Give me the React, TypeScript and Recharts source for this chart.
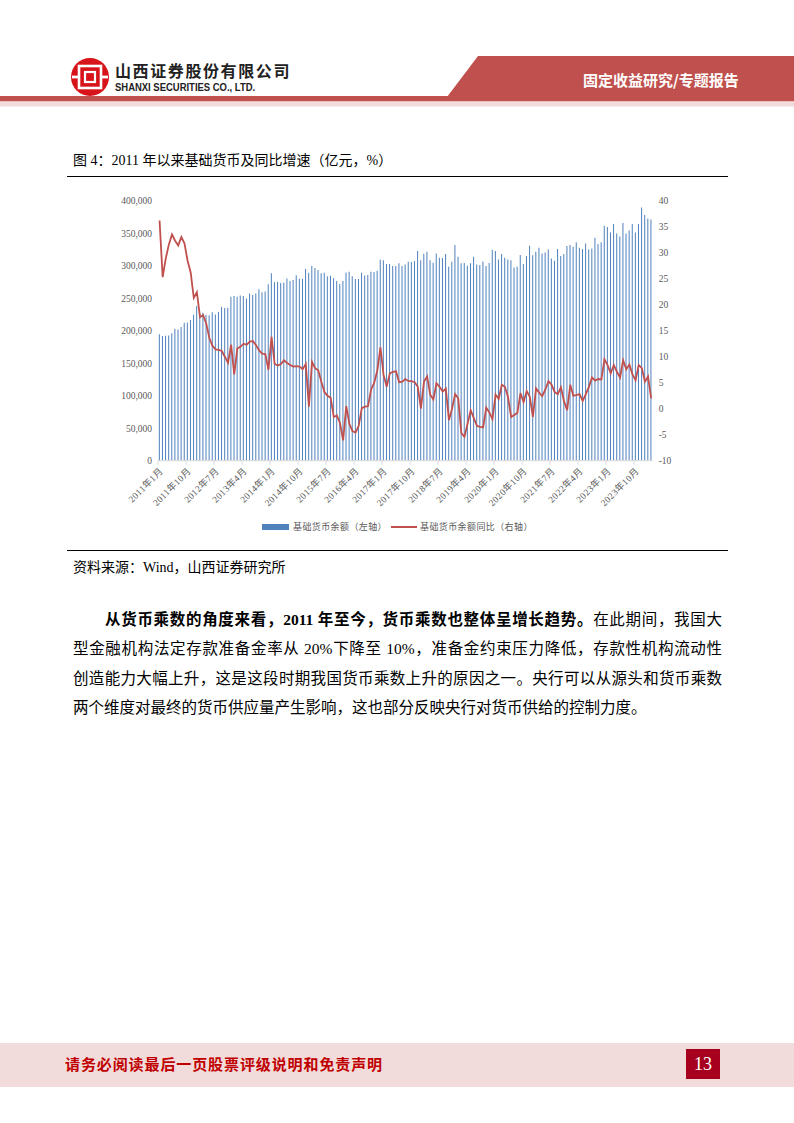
import React from 'react';
import { ComposedChart, Bar, Line, XAxis, YAxis } from 'recharts';

// 基础货币余额（亿元），2011年1月 — 2024年3月，月度
const START_YEAR = 2011;
const baseMoney = [
  194400, 191800, 192300, 192800, 195900, 203100, 202000, 205600, 212300, 212800, 216400, 224600,
  237900, 226700, 227700, 224600, 223600, 228200, 225100, 228700, 236400, 234900, 235400, 252300,
  253300, 252300, 254300, 253300, 249700, 257400, 254800, 257400, 263600, 259000, 260500, 271300,
  288200, 274500, 274800, 273300, 274300, 280500, 276600, 277900, 285400, 279800, 280000, 294800,
  289200, 299500, 296400, 293300, 288200, 289000, 283900, 284400, 280800, 276400, 271800, 276400,
  289700, 290700, 283600, 279500, 279500, 289200, 285100, 285600, 290700, 290200, 292300, 309200,
  308200, 302500, 302500, 299500, 299500, 303600, 299500, 302000, 306100, 305600, 307100, 322500,
  308200, 318400, 321500, 308200, 304600, 318900, 312300, 311800, 317900, 298400, 306100, 331800,
  313800, 303600, 304100, 300000, 303600, 313800, 302000, 301000, 306600, 299500, 304100, 324600,
  322500, 309700, 317900, 312300, 309700, 308200, 297400, 298400, 316400, 302500, 314800, 330700,
  315900, 321500, 327600, 318900, 320500, 325100, 311200, 307600, 325600, 314800, 317900, 330200,
  331800, 329200, 335900, 327600, 325600, 334300, 325100, 326600, 343000, 333300, 335900, 361500,
  359400, 351200, 364000, 349700, 345100, 365600, 349700, 354300, 364000, 351200, 364000, 389700,
  377900, 372800, 371200,
];

// 基础货币余额同比（%）
const yoyGrowth = [
  36.2, 25.3, 28.9, 31.6, 33.5, 32.3, 31.4, 33.0, 31.8, 28.5, 26.2, 21.3,
  22.4, 17.6, 18.0, 16.4, 13.6, 12.1, 11.4, 11.3, 11.1, 10.0, 8.8, 12.3,
  6.6, 11.6, 11.9, 12.5, 12.3, 12.9, 13.0, 12.2, 11.2, 10.6, 10.5, 7.5,
  13.8, 8.6, 8.3, 8.6, 9.3, 8.8, 8.4, 8.1, 8.2, 8.1, 7.6, 8.6,
  0.4, 9.0, 7.8, 7.4, 5.2, 3.2, 2.5, 2.1, -1.6, -1.3, -2.8, -6.1,
  0.5, -2.9, -4.3, -4.6, -3.3, 0.1, 0.4, 0.5, 3.7, 5.0, 7.4, 11.8,
  6.5, 4.2, 6.8, 7.1, 7.2, 5.1, 5.2, 5.7, 5.3, 5.3, 5.1, 4.2,
  0.0, 5.2, 6.2, 2.7, 1.8, 4.9, 4.2, 3.3, 3.9, -2.2, 0.0, 2.8,
  2.0, -4.7, -5.4, -2.9, -0.3, -1.8, -3.3, -3.5, -3.6, 0.2, -0.7, -2.0,
  2.7, 1.9, 4.6, 4.2, 2.2, -1.6, -1.2, -0.8, 3.0, 1.3, 3.4, 2.3,
  -1.6, 3.9, 3.1, 2.4, 3.7, 5.3, 4.6, 3.2, 2.8, 4.1, 1.4, -0.3,
  4.6, 2.5, 2.6, 2.8, 1.5, 2.8, 4.2, 6.0, 5.4, 5.7, 5.6, 9.5,
  8.4, 6.8, 8.4, 7.1, 6.0, 9.3, 7.6, 8.5, 6.6, 5.5, 8.4, 7.8,
  5.2, 6.2, 2.0,
];

const leftTicks = [0, 50000, 100000, 150000, 200000, 250000, 300000, 350000, 400000];
const rightTicks = [-10, -5, 0, 5, 10, 15, 20, 25, 30, 35, 40];

const months = baseMoney.map(
  (_, i) => `${START_YEAR + Math.floor(i / 12)}年${(i % 12) + 1}月`
);
const chartData = months.map((m, i) => ({ month: m, base: baseMoney[i], yoy: yoyGrowth[i] }));

const SERIF = '"Liberation Serif", "Times New Roman", "Noto Sans CJK SC", serif';
const AXIS_GREY = '#595959';

const MonthTick = ({ x, y, payload }: any) => {
  const half = payload && payload.offset ? payload.offset : 1.55;
  const ax = x + 4;
  const ay = y + 11;
  return (
    <g>
      <line x1={x - half} y1={y} x2={x - half} y2={y + 4} stroke="#d9d9d9" strokeWidth={1} />
      <text
        x={ax}
        y={ay}
        transform={`rotate(-45 ${ax} ${ay})`}
        textAnchor="end"
        fontSize={9.3}
        letterSpacing={0.4}
        fill={AXIS_GREY}
        fontFamily={SERIF}
      >
        {payload.value}
      </text>
    </g>
  );
};

const Logo = () => (
  <svg width={40} height={40} viewBox="0 0 40 40" style={{ position: 'absolute', left: 70, top: 57 }}>
    <circle cx={20} cy={20} r={19} fill="#d7141a" />
    <rect x={9} y={9} width={22} height={22} fill="none" stroke="#fff" strokeWidth={2.6} />
    <rect x={15} y={15} width={10} height={10} fill="none" stroke="#fff" strokeWidth={2.2} />
    <rect x={2} y={18.6} width={7} height={2.8} fill="#fff" />
    <rect x={31} y={18.6} width={7} height={2.8} fill="#fff" />
  </svg>
);

const BaseMoneyChart = () => (
  <div style={{ position: 'absolute', left: 60, top: 190, width: 680, height: 350 }}>
    <ComposedChart
      width={680}
      height={350}
      data={chartData}
      margin={{ top: 10.7, right: 57.3, left: 0, bottom: 0 }}
      barCategoryGap="27%"
    >
      <XAxis
        dataKey="month"
        interval={8}
        height={79.3}
        tickSize={0}
        tickMargin={0}
        tickLine={false}
        axisLine={{ stroke: '#d9d9d9' }}
        tick={<MonthTick />}
      />
      <YAxis
        yAxisId="left"
        orientation="left"
        width={98}
        domain={[0, 400000]}
        ticks={leftTicks}
        axisLine={false}
        tickLine={false}
        tickSize={4}
        tickMargin={2}
        tick={{ fontSize: 9.5, fill: AXIS_GREY, fontFamily: SERIF }}
        tickFormatter={(v: number) => v.toLocaleString('en-US')}
      />
      <YAxis
        yAxisId="right"
        orientation="right"
        width={30}
        domain={[-10, 40]}
        ticks={rightTicks}
        axisLine={false}
        tickLine={false}
        tickSize={4}
        tickMargin={2}
        tick={{ fontSize: 9.5, fill: AXIS_GREY, fontFamily: SERIF, textAnchor: 'start' }}
      />
      <Bar yAxisId="left" dataKey="base" fill="#4f81bd" isAnimationActive={false} />
      <Line
        yAxisId="right"
        type="linear"
        dataKey="yoy"
        stroke="#c0504d"
        strokeWidth={1.8}
        dot={false}
        activeDot={false}
        isAnimationActive={false}
      />
    </ComposedChart>
  </div>
);

const legendText: React.CSSProperties = {
  position: 'absolute',
  top: 520,
  fontSize: 9,
  lineHeight: '14px',
  color: AXIS_GREY,
  fontFamily: SERIF,
  whiteSpace: 'nowrap',
  letterSpacing: 0.4,
};

const bodyLine: React.CSSProperties = {
  position: 'absolute',
  left: 73,
  width: 649,
  fontSize: 15.5,
  lineHeight: '20px',
  fontFamily: SERIF,
  color: '#000',
  textAlign: 'justify',
  textAlignLast: 'justify',
  whiteSpace: 'nowrap',
};

const App = () => (
  <div
    style={{
      position: 'absolute',
      left: 0,
      top: 0,
      width: 794,
      height: 1123,
      background: '#fff',
      overflow: 'hidden',
      fontFamily: SERIF,
    }}
  >
    {/* header */}
    <Logo />
    <div
      style={{
        position: 'absolute',
        left: 115,
        top: 60,
        fontSize: 16,
        fontWeight: 'bold',
        letterSpacing: 1.6,
        color: '#222',
        fontFamily: '"Noto Sans CJK SC", sans-serif',
        lineHeight: '20px',
        whiteSpace: 'nowrap',
      }}
    >
      山西证券股份有限公司
    </div>
    <div
      style={{
        position: 'absolute',
        left: 115,
        top: 80,
        fontSize: 11,
        fontWeight: 'bold',
        color: '#222',
        fontFamily: '"Liberation Sans", Arial, sans-serif',
        lineHeight: '14px',
        whiteSpace: 'nowrap',
        transform: 'scaleX(0.86)',
        transformOrigin: 'left center',
      }}
    >
      SHANXI SECURITIES CO., LTD.
    </div>
    <svg width={794} height={60} style={{ position: 'absolute', left: 0, top: 50 }}>
      <polygon points="478,6 794,6 794,47 447,47" fill="#c0504d" />
      <rect x={0} y={46} width={794} height={5.5} fill="#c0504d" />
      <rect x={0} y={51.5} width={794} height={5} fill="#f2dcdb" />
    </svg>
    <div
      style={{
        position: 'absolute',
        left: 583,
        top: 70,
        fontSize: 15,
        fontWeight: 'bold',
        color: '#fff',
        fontFamily: '"Noto Sans CJK SC", sans-serif',
        lineHeight: '20px',
        whiteSpace: 'nowrap',
      }}
    >
      固定收益研究/专题报告
    </div>

    {/* figure title */}
    <div
      style={{
        position: 'absolute',
        left: 73,
        top: 152,
        fontSize: 14,
        lineHeight: '18px',
        whiteSpace: 'nowrap',
        color: '#000',
      }}
    >
      图 4：2011 年以来基础货币及同比增速（亿元，%）
    </div>
    <div style={{ position: 'absolute', left: 67, top: 176, width: 661, height: 1.3, background: '#000' }} />

    <BaseMoneyChart />

    {/* legend */}
    <div style={{ position: 'absolute', left: 262, top: 524, width: 27, height: 6, background: '#4f81bd' }} />
    <div style={{ ...legendText, left: 293 }}>基础货币余额（左轴）</div>
    <div style={{ position: 'absolute', left: 391, top: 526.2, width: 26, height: 1.7, background: '#c0504d' }} />
    <div style={{ ...legendText, left: 420 }}>基础货币余额同比（右轴）</div>

    <div style={{ position: 'absolute', left: 67, top: 550, width: 661, height: 1.3, background: '#000' }} />
    <div
      style={{
        position: 'absolute',
        left: 73,
        top: 559,
        fontSize: 14,
        lineHeight: '18px',
        whiteSpace: 'nowrap',
        color: '#000',
      }}
    >
      资料来源：Wind，山西证券研究所
    </div>

    {/* body text */}
    <div style={{ ...bodyLine, top: 610, textIndent: 32 }}>
      <span style={{ fontWeight: 'bold' }}>从货币乘数的角度来看，2011 年至今，货币乘数也整体呈增长趋势。</span>
      在此期间，我国大
    </div>
    <div style={{ ...bodyLine, top: 639 }}>
      型金融机构法定存款准备金率从 20%下降至 10%，准备金约束压力降低，存款性机构流动性
    </div>
    <div style={{ ...bodyLine, top: 669 }}>
      创造能力大幅上升，这是这段时期我国货币乘数上升的原因之一。央行可以从源头和货币乘数
    </div>
    <div style={{ ...bodyLine, top: 698, textAlign: 'left', textAlignLast: 'left' }}>
      两个维度对最终的货币供应量产生影响，这也部分反映央行对货币供给的控制力度。
    </div>

    {/* footer */}
    <div style={{ position: 'absolute', left: 0, top: 1043, width: 794, height: 44, background: '#f2dcdb' }} />
    <div
      style={{
        position: 'absolute',
        left: 65,
        top: 1055,
        fontSize: 15,
        fontWeight: 'bold',
        letterSpacing: 0.9,
        color: '#c00000',
        lineHeight: '20px',
        whiteSpace: 'nowrap',
      }}
    >
      请务必阅读最后一页股票评级说明和免责声明
    </div>
    <div
      style={{
        position: 'absolute',
        left: 686,
        top: 1049,
        width: 34,
        height: 30,
        background: '#a6001e',
        color: '#fff',
        fontSize: 18,
        lineHeight: '30px',
        textAlign: 'center',
      }}
    >
      13
    </div>
  </div>
);

export default App;
